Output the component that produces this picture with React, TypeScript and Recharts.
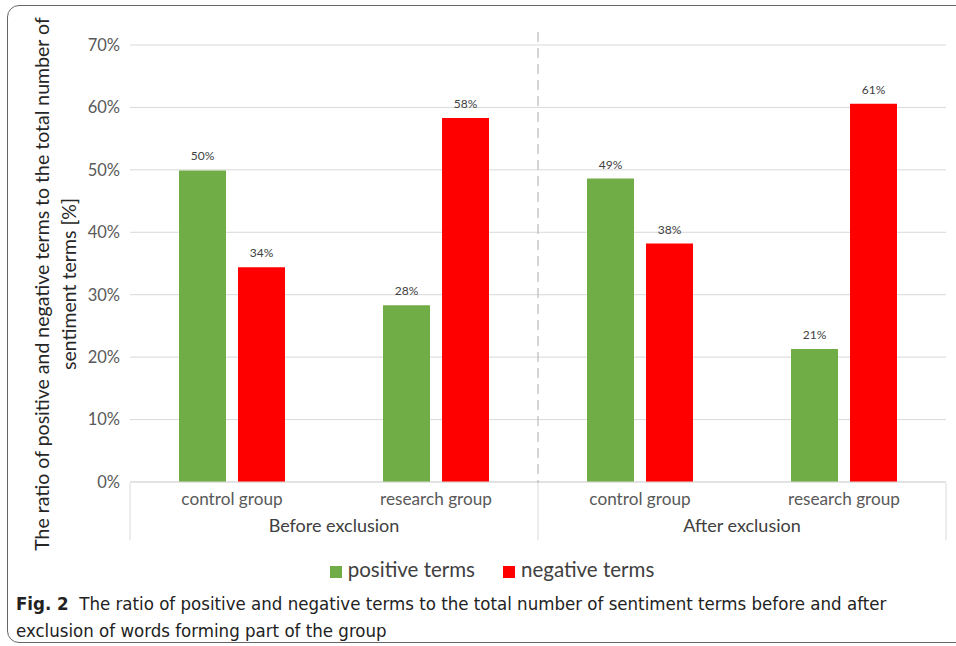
import React from "react";
import {
  BarChart,
  Bar,
  XAxis,
  YAxis,
  CartesianGrid,
  Legend,
  LabelList,
} from "recharts";

const categories = ["control group", "research group", "control group", "research group"];
const groups = ["Before exclusion", "Before exclusion", "After exclusion", "After exclusion"];
const positiveTerms = [49.9, 28.3, 48.6, 21.3];
const negativeTerms = [34.4, 58.3, 38.2, 60.6];
const yTicks = [0, 10, 20, 30, 40, 50, 60, 70];
const seriesOrder = ["positive terms", "negative terms"];

const chartData = categories.map((cat, i) => ({
  key: `${groups[i]}-${cat}`,
  cat,
  group: groups[i],
  positive: positiveTerms[i],
  negative: negativeTerms[i],
}));

const FONT = "Lato, 'Open Sans', sans-serif";
const BAND = 204;
const PLOT_TOP = 45;
const PLOT_BOTTOM = 483;
const X_AXIS_H = 60;

// category name plus the multi-level separators and group name
const CatTick = (props: any) => {
  const { x, y, index } = props;
  const left = x - BAND / 2;
  const right = x + BAND / 2;
  const group = groups[index];
  const startsGroup = index === 0 || groups[index - 1] !== group;
  return (
    <g>
      <text x={x} y={y + 15} textAnchor="middle" fontSize={17.2} fill="#595959" fontFamily={FONT}>
        {categories[index]}
      </text>
      {startsGroup && (
        <>
          <line x1={left} x2={left} y1={PLOT_BOTTOM} y2={PLOT_BOTTOM + 57} stroke="#d9d9d9" />
          <text x={right} y={y + 42} textAnchor="middle" fontSize={18} fill="#404040" fontFamily={FONT}>
            {group}
          </text>
          {index > 0 && (
            <line
              x1={left}
              x2={left}
              y1={PLOT_TOP - 13}
              y2={PLOT_BOTTOM}
              stroke="#bfbfbf"
              strokeWidth={1.3}
              strokeDasharray="10 6"
            />
          )}
        </>
      )}
      {index === groups.length - 1 && (
        <line x1={right} x2={right} y1={PLOT_BOTTOM} y2={PLOT_BOTTOM + 57} stroke="#d9d9d9" />
      )}
    </g>
  );
};

const YLabel = () => {
  const cy = 284;
  return (
    <g fontFamily={FONT} fontSize={19.5} fill="#262626">
      <text transform={`translate(49, ${cy}) rotate(-90)`} textAnchor="middle">
        The ratio of positive and negative terms to the total number of
      </text>
      <text transform={`translate(76, ${cy}) rotate(-90)`} textAnchor="middle">
        sentiment terms [%]
      </text>
    </g>
  );
};

export default function App() {
  return (
    <div
      style={{
        position: "fixed",
        left: 0,
        top: 0,
        width: 956,
        height: 646,
        background: "#fff",
        overflow: "hidden",
      }}
    >
      <div
        style={{
          position: "absolute",
          left: 7,
          top: 5,
          width: 970,
          height: 636,
          border: "1.5px solid #666",
          borderRadius: 12,
        }}
      />
      <div style={{ position: "absolute", left: 0, top: 0 }}>
        <BarChart
          width={956}
          height={566}
          data={chartData}
          margin={{ top: PLOT_TOP, right: 10, left: 0, bottom: 0 }}
          barSize={47}
          barGap={12}
        >
          <CartesianGrid vertical={false} stroke="#d9d9d9" />
          <XAxis
            dataKey="key"
            interval={0}
            axisLine={{ stroke: "#d9d9d9" }}
            tickLine={false}
            tick={<CatTick />}
            height={X_AXIS_H}
          />
          <YAxis
            width={130}
            domain={[0, 70]}
            ticks={yTicks}
            interval={0}
            axisLine={false}
            tickLine={false}
            tickMargin={4}
            tickFormatter={(v: number) => `${v}%`}
            tick={{ fontSize: 16.5, fill: "#595959", fontFamily: FONT }}
            label={<YLabel />}
          />
          <Legend
            verticalAlign="bottom"
            iconType="square"
            iconSize={12}
            itemSorter={(item: any) => seriesOrder.indexOf(item.value)}
            wrapperStyle={{
              top: 557,
              left: 38,
              width: 918,
              fontSize: 20.5,
              fontFamily: FONT,
            }}
            formatter={(value: string) => (
              <span
                style={{
                  color: "#404040",
                  marginLeft: 2,
                  marginRight: value === seriesOrder[0] ? 18 : 0,
                }}
              >
                {value}
              </span>
            )}
          />
          <Bar dataKey="positive" name="positive terms" fill="#70ad47" isAnimationActive={false}>
            <LabelList
              dataKey="positive"
              position="top"
              offset={10}
              formatter={(v: any) => `${Math.round(Number(v))}%`}
              style={{ fontSize: 12, fill: "#404040", fontFamily: FONT }}
            />
          </Bar>
          <Bar dataKey="negative" name="negative terms" fill="#ff0000" isAnimationActive={false}>
            <LabelList
              dataKey="negative"
              position="top"
              offset={10}
              formatter={(v: any) => `${Math.round(Number(v))}%`}
              style={{ fontSize: 12, fill: "#404040", fontFamily: FONT }}
            />
          </Bar>
        </BarChart>
      </div>
      <div
        style={{
          position: "absolute",
          left: 16,
          top: 590,
          fontFamily: "'Liberation Sans Narrow', 'DejaVu Sans Condensed', sans-serif",
          fontSize: 18.5,
          lineHeight: "27px",
          color: "#222",
          whiteSpace: "nowrap",
        }}
      >
        <b>Fig. 2</b>&nbsp;&nbsp;The ratio of positive and negative terms to the total number of sentiment terms before and after
        <br />
        exclusion of words forming part of the group
      </div>
    </div>
  );
}
